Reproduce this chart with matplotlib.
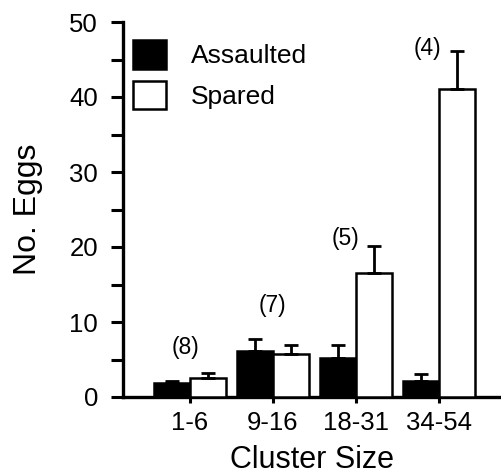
import matplotlib
matplotlib.use("Agg")
import matplotlib.pyplot as plt
import numpy as np
from matplotlib.ticker import MultipleLocator
from matplotlib.patches import Patch

categories = ["1-6", "9-16", "18-31", "34-54"]
assaulted = [1.9, 6.1, 5.25, 2.1]
assaulted_err = [0.3, 1.7, 1.75, 1.0]
spared = [2.6, 5.7, 16.6, 41.1]
spared_err = [0.6, 1.3, 3.5, 5.0]
n_labels = ["(8)", "(7)", "(5)", "(4)"]
n_label_x = [-0.06, 0.99, 1.87, 2.855]
n_label_y = [6.6, 12.2, 21.2, 46.5]

plt.rcParams['font.family'] = ['Liberation Sans', 'DejaVu Sans']

fig = plt.figure(figsize=(5.01, 4.74), dpi=100)
ax = fig.add_axes([123/501, 1-397/474, 1-123/501, 375/474])

x = np.arange(len(categories))
w = 0.434
lw = 1.8
ax.bar(x - w/2, assaulted, w, color='black', edgecolor='black', linewidth=lw,
       yerr=[np.zeros(4), assaulted_err], capsize=5,
       error_kw=dict(elinewidth=2, capthick=2, ecolor='black'), zorder=3)
ax.bar(x + w/2, spared, w, color='white', edgecolor='black', linewidth=lw,
       yerr=[np.zeros(4), spared_err], capsize=5,
       error_kw=dict(elinewidth=2, capthick=2, ecolor='black'), zorder=3)

for t, tx, ty in zip(n_labels, n_label_x, n_label_y):
    ax.text(tx, ty, t, ha='center', va='center', fontsize=16.5)

ax.set_xlim(-0.807, 3.747)
ax.set_ylim(0, 50)
ax.set_xticks(x)
ax.set_xticklabels(categories)
ax.yaxis.set_major_locator(MultipleLocator(10))
ax.yaxis.set_minor_locator(MultipleLocator(5))
ax.tick_params(axis='y', which='both', direction='out', length=9, width=2.2, labelsize=18.5, pad=9)
ax.tick_params(axis='x', direction='out', length=4, width=2.2, labelsize=18.5, pad=6)
for s in ['top', 'right']:
    ax.spines[s].set_visible(False)
for s in ['left', 'bottom']:
    ax.spines[s].set_linewidth(2.4)

ax.set_ylabel("No. Eggs", fontsize=23, labelpad=19)
ax.set_xlabel("Cluster Size", fontsize=22, labelpad=7)

handles = [Patch(facecolor='black', edgecolor='black', linewidth=lw),
           Patch(facecolor='white', edgecolor='black', linewidth=lw)]
ax.legend(handles, ["Assaulted", "Spared"], loc='upper left',
          bbox_to_anchor=(133/501, 1-40/474), bbox_transform=fig.transFigure,
          frameon=False, fontsize=19, handlelength=1.25, handleheight=1.3,
          handletextpad=0.95, labelspacing=0.45, borderpad=0, borderaxespad=0)

fig.savefig("out.png", dpi=100)
